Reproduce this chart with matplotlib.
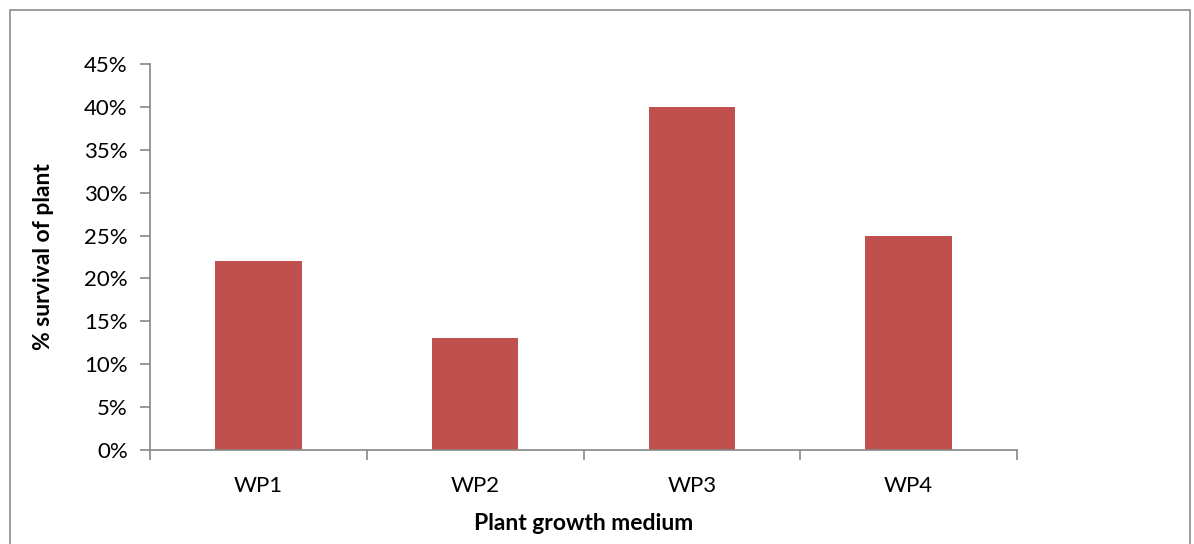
import matplotlib
matplotlib.use("Agg")
import matplotlib.pyplot as plt
import matplotlib.patches as mpatches
from matplotlib.ticker import PercentFormatter, FixedLocator, NullFormatter

# データ
categories = ["WP1", "WP2", "WP3", "WP4"]
survival = [22, 13, 40, 25]  # % survival of plant
y_ticks = [0, 5, 10, 15, 20, 25, 30, 35, 40, 45]

BAR_COLOR = "#C0504D"
AXIS_COLOR = "#868686"

plt.rcParams["font.family"] = ["Lato", "DejaVu Sans"]

fig = plt.figure(figsize=(11.94, 5.44), dpi=100)
ax = fig.add_axes([150 / 1194, 1 - 450 / 544, 867 / 1194, 386 / 544])

x = list(range(len(categories)))
ax.bar(x, survival, width=0.4, color=BAR_COLOR)

ax.set_xlim(-0.5, len(categories) - 0.5)
ax.set_ylim(0, 45)
ax.set_yticks(y_ticks)
ax.yaxis.set_major_formatter(PercentFormatter(decimals=0))

# x軸: カテゴリ境界に目盛、ラベルは中央
ax.xaxis.set_major_locator(FixedLocator([i - 0.5 for i in range(len(categories) + 1)]))
ax.xaxis.set_major_formatter(NullFormatter())
ax.set_xticks(x, minor=True)
ax.set_xticklabels(categories, minor=True)
ax.tick_params(axis="x", which="minor", length=0, pad=19, labelsize=16)
ax.tick_params(axis="x", which="major", length=7, width=1.2, color=AXIS_COLOR, direction="out")
ax.tick_params(axis="y", length=7, width=1.2, color=AXIS_COLOR, direction="out", labelsize=16, pad=9)

for s in ["top", "right"]:
    ax.spines[s].set_visible(False)
for s in ["left", "bottom"]:
    ax.spines[s].set_color(AXIS_COLOR)
    ax.spines[s].set_linewidth(1.2)

ax.set_xlabel("Plant growth medium", fontsize=16.5, fontweight="bold", labelpad=12)
ax.set_ylabel("% survival of plant", fontsize=16.5, fontweight="bold", labelpad=22)

# 外枠
frame = mpatches.Rectangle((10 / 1194, -0.02), 1180 / 1194, 1 - 10 / 544 + 0.02,
                           transform=fig.transFigure, fill=False,
                           edgecolor="#8C8C8C", linewidth=1.2)
fig.patches.append(frame)

fig.savefig("out.png", dpi=100)
